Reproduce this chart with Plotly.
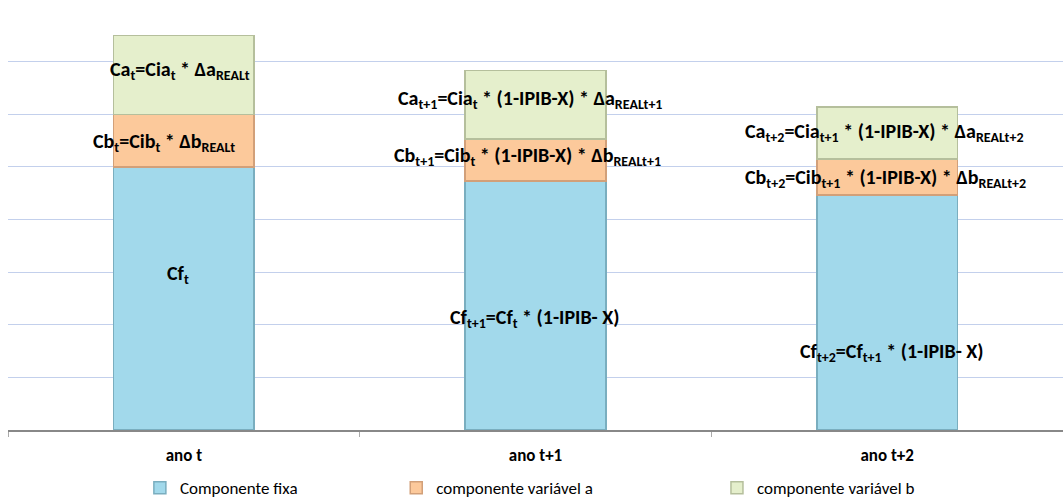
import plotly.graph_objects as go

categories = ["ano t", "ano t+1", "ano t+2"]
fixa = [5.0, 4.73, 4.47]
var_a = [1.0, 0.80, 0.68]
var_b = [1.5, 1.30, 0.99]

series_names = ["Componente fixa", "componente variável a", "componente variável b"]

label_fixa = [
    "Cf<sub>t</sub>",
    "Cf<sub>t+1</sub>=Cf<sub>t</sub> * (1-IPIB- X)",
    "Cf<sub>t+2</sub>=Cf<sub>t+1</sub> * (1-IPIB- X)",
]
label_a = [
    "Cb<sub>t</sub>=Cib<sub>t</sub> * Δb<sub>REALt</sub>",
    "Cb<sub>t+1</sub>=Cib<sub>t</sub> * (1-IPIB-X) * Δb<sub>REALt+1</sub>",
    "Cb<sub>t+2</sub>=Cib<sub>t+1</sub> * (1-IPIB-X) * Δb<sub>REALt+2</sub>",
]
label_b = [
    "Ca<sub>t</sub>=Cia<sub>t</sub> * Δa<sub>REALt</sub>",
    "Ca<sub>t+1</sub>=Cia<sub>t</sub> * (1-IPIB-X) * Δa<sub>REALt+1</sub>",
    "Ca<sub>t+2</sub>=Cia<sub>t+1</sub> * (1-IPIB-X) * Δa<sub>REALt+2</sub>",
]

FONT = "Carlito, Liberation Sans, Arial, sans-serif"

fig = go.Figure()
styles = [
    ("#a2d9eb", "#7aaebf", "legend"),
    ("#fcc99b", "#d2a079", "legend2"),
    ("#e5efcc", "#b5bf9c", "legend3"),
]
for vals, name, (fill, edge, lg) in zip([fixa, var_a, var_b], series_names, styles):
    fig.add_trace(go.Bar(
        x=categories, y=vals, name=name,
        marker=dict(color=fill, line=dict(color=edge, width=1.5)),
        legend=lg, hoverinfo="skip",
    ))

# label offsets (pixels) relative to segment centers
shifts_fixa = [(-6, -24), (-1, 13), (5, 40)]
shifts_a = [(-20, 2), (-8, -4), (-2, 2)]
shifts_b = [(-4, -4), (-6, -5), (-3, 0)]

annotations = []
for i, c in enumerate(categories):
    segs = [
        (fixa[i] / 2, label_fixa[i], shifts_fixa[i]),
        (fixa[i] + var_a[i] / 2, label_a[i], shifts_a[i]),
        (fixa[i] + var_a[i] + var_b[i] / 2, label_b[i], shifts_b[i]),
    ]
    for yc, txt, (dx, dy) in segs:
        annotations.append(dict(
            x=c, y=yc, text=f"<b>{txt}</b>", showarrow=False,
            xshift=dx, yshift=-dy,
            font=dict(family=FONT, size=20, color="#000000"),
        ))

leg_common = dict(orientation="h", y=-0.138, yanchor="middle", xanchor="left",
                  font=dict(family=FONT, size=17, color="#000000"),
                  bgcolor="rgba(0,0,0,0)", borderwidth=0)
fig.update_layout(
    width=1063, height=500,
    margin=dict(l=8, r=0, t=9, b=70, autoexpand=False),
    barmode="stack", bargap=0.6,
    plot_bgcolor="white", paper_bgcolor="white",
    font=dict(family=FONT, color="#000000"),
    annotations=annotations,
    showlegend=True,
    legend=dict(x=0.125, **leg_common),
    legend2=dict(x=0.368, **leg_common),
    legend3=dict(x=0.672, **leg_common),
)
fig.update_xaxes(
    type="category", showline=True, linecolor="#888888", linewidth=2,
    ticks="outside", tickson="boundaries", ticklen=5, tickcolor="#aaaaaa",
    showgrid=False, ticklabelstandoff=9, automargin=False,
    tickfont=dict(family=FONT, size=17, color="#000000"),
    tickvals=categories, ticktext=[f"<b>{c}</b>" for c in categories],
)
fig.update_yaxes(
    range=[0, 8], dtick=1, showticklabels=False, showgrid=True,
    gridcolor="#c3d0ec", gridwidth=1.2, zeroline=False, showline=False,
)

fig.write_html("out.html")
